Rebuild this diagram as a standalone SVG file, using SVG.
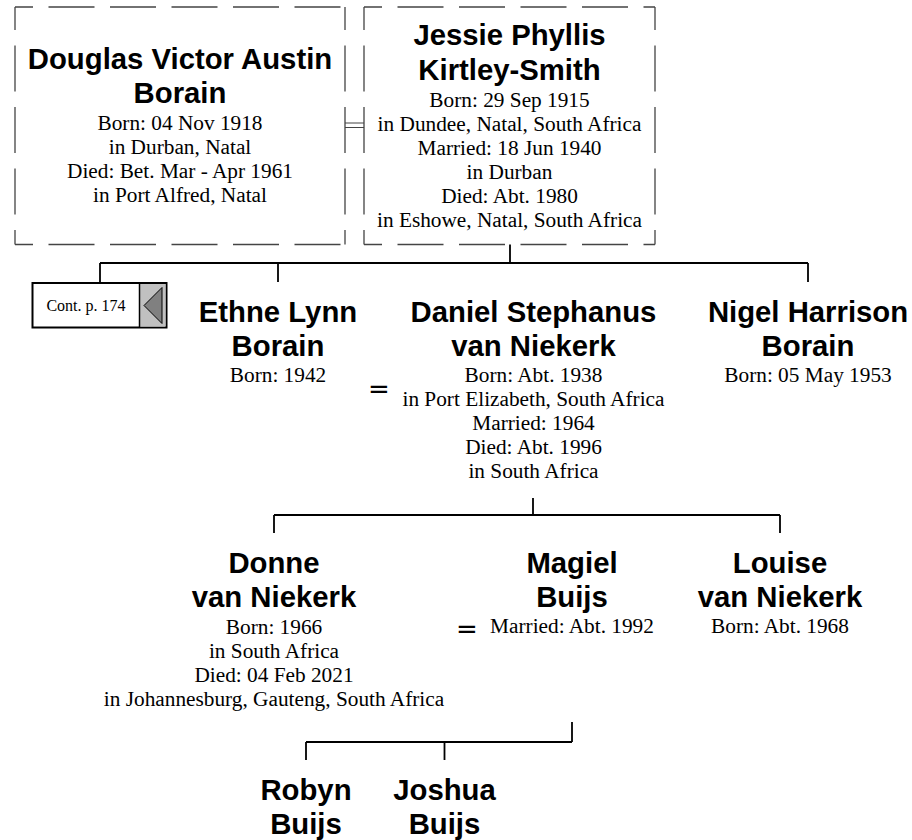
<svg xmlns="http://www.w3.org/2000/svg" width="912" height="840" viewBox="0 0 912 840">
<style>
.bg{fill:#ffffff}
.name{font-family:"Liberation Sans",Arial,sans-serif;font-weight:bold;font-size:29.3px;fill:#000;text-anchor:middle}
.info{font-family:"Liberation Serif","Times New Roman",serif;font-size:21.3px;fill:#000;text-anchor:middle}
.eq{font-family:"DejaVu Sans",sans-serif;font-size:26px;fill:#000;text-anchor:middle}
.cont{font-family:"Liberation Serif","Times New Roman",serif;font-size:16px;fill:#000;text-anchor:middle}
.dv{stroke:#444;stroke-width:1.3;fill:none;stroke-dasharray:46 15.5;stroke-dashoffset:23}
.dh{stroke:#444;stroke-width:1.3;fill:none;stroke-dasharray:46 15.5;stroke-dashoffset:28}
.conn{stroke:#000;stroke-width:1.8;fill:none}
.dbl{stroke:#444;stroke-width:1;fill:none}
</style>
<rect class="bg" x="0" y="0" width="912" height="840"/>

<g id="connectors">
  <path class="dbl" d="M345 123 H364 M345 127.5 H364"/>
  <path class="conn" d="M510 244.5 V263 M100 263 H808 M100 263 V283 M278 263 V282 M808 263 V282"/>
  <path class="conn" d="M533 498 V515 M274 515 H780 M274 515 V533 M780 515 V533"/>
  <path class="conn" d="M572 722 V742 M306 742 H572 M306 742 V760 M444.5 742 V760"/>
</g>

<g id="douglas">
  <line class="dh" x1="15" y1="7" x2="345" y2="7"/>
  <line class="dh" x1="15" y1="244.5" x2="345" y2="244.5"/>
  <line class="dv" x1="15" y1="7" x2="15" y2="244.5"/>
  <line class="dv" x1="345" y1="7" x2="345" y2="244.5"/>
  <text class="name" x="180" y="69">Douglas Victor Austin</text>
  <text class="name" x="180" y="103">Borain</text>
  <text class="info" x="180" y="130">Born: 04 Nov 1918</text>
  <text class="info" x="180" y="154">in Durban, Natal</text>
  <text class="info" x="180" y="178">Died: Bet. Mar - Apr 1961</text>
  <text class="info" x="180" y="202">in Port Alfred, Natal</text>
</g>

<g id="jessie">
  <line class="dh" x1="364" y1="7" x2="655" y2="7"/>
  <line class="dh" x1="364" y1="244.5" x2="655" y2="244.5"/>
  <line class="dv" x1="364" y1="7" x2="364" y2="244.5"/>
  <line class="dv" x1="655" y1="7" x2="655" y2="244.5"/>
  <text class="name" x="509.5" y="45">Jessie Phyllis</text>
  <text class="name" x="509.5" y="79.5">Kirtley-Smith</text>
  <text class="info" x="509.5" y="106.5">Born: 29 Sep 1915</text>
  <text class="info" x="509.5" y="130.5">in Dundee, Natal, South Africa</text>
  <text class="info" x="509.5" y="154.5">Married: 18 Jun 1940</text>
  <text class="info" x="509.5" y="178.5">in Durban</text>
  <text class="info" x="509.5" y="202.5">Died: Abt. 1980</text>
  <text class="info" x="509.5" y="226.5">in Eshowe, Natal, South Africa</text>
</g>

<g id="cont174">
  <rect x="32.5" y="283" width="134" height="44.5" fill="#ffffff" stroke="#000" stroke-width="2"/>
  <rect x="139.5" y="284" width="26" height="42.5" fill="#c0c0c0"/>
  <line x1="139.5" y1="283" x2="139.5" y2="327.5" stroke="#000" stroke-width="1.5"/>
  <polygon points="144,305.5 162,287.5 162,323.5" fill="#808080" stroke="#000" stroke-width="1"/>
  <text class="cont" x="86" y="310.5">Cont. p. 174</text>
</g>

<g id="ethne">
  <text class="name" x="278" y="322">Ethne Lynn</text>
  <text class="name" x="278" y="356">Borain</text>
  <text class="info" x="278" y="382">Born: 1942</text>
</g>

<g id="marriage1">
  <text class="eq" x="379" y="398">=</text>
</g>

<g id="daniel">
  <text class="name" x="533.5" y="322">Daniel Stephanus</text>
  <text class="name" x="533.5" y="356">van Niekerk</text>
  <text class="info" x="533.5" y="382">Born: Abt. 1938</text>
  <text class="info" x="533.5" y="406">in Port Elizabeth, South Africa</text>
  <text class="info" x="533.5" y="430">Married: 1964</text>
  <text class="info" x="533.5" y="454">Died: Abt. 1996</text>
  <text class="info" x="533.5" y="478">in South Africa</text>
</g>

<g id="nigel">
  <text class="name" x="808" y="322">Nigel Harrison</text>
  <text class="name" x="808" y="356">Borain</text>
  <text class="info" x="808" y="382">Born: 05 May 1953</text>
</g>

<g id="donne">
  <text class="name" x="274" y="573">Donne</text>
  <text class="name" x="274" y="607">van Niekerk</text>
  <text class="info" x="274" y="633.5">Born: 1966</text>
  <text class="info" x="274" y="657.5">in South Africa</text>
  <text class="info" x="274" y="681.5">Died: 04 Feb 2021</text>
  <text class="info" x="274" y="705.5">in Johannesburg, Gauteng, South Africa</text>
</g>

<g id="marriage2">
  <text class="eq" x="467" y="638">=</text>
</g>

<g id="magiel">
  <text class="name" x="572" y="573">Magiel</text>
  <text class="name" x="572" y="607">Buijs</text>
  <text class="info" x="572" y="633">Married: Abt. 1992</text>
</g>

<g id="louise">
  <text class="name" x="780" y="573">Louise</text>
  <text class="name" x="780" y="607">van Niekerk</text>
  <text class="info" x="780" y="633">Born: Abt. 1968</text>
</g>

<g id="robyn">
  <text class="name" x="306" y="800">Robyn</text>
  <text class="name" x="306" y="834">Buijs</text>
</g>

<g id="joshua">
  <text class="name" x="444.5" y="800">Joshua</text>
  <text class="name" x="444.5" y="834">Buijs</text>
</g>
</svg>
